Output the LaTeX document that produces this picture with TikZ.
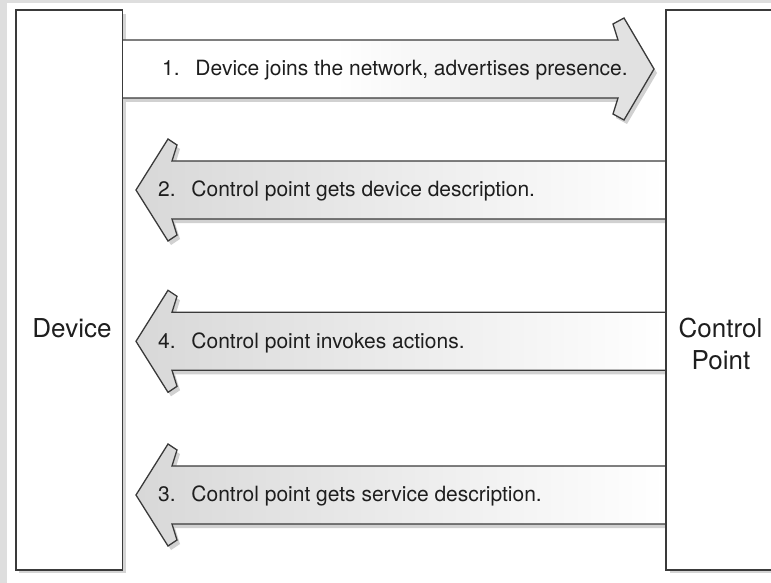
\documentclass[tikz,border=0pt]{standalone}
\usepackage{fontspec}
\setmainfont{TeX Gyre Heros}
\usetikzlibrary{calc}
\pgfdeclarehorizontalshading{shadeR}{100bp}{color(0bp)=(white); color(45bp)=(white); color(100bp)=(black!23)}
\pgfdeclarehorizontalshading{shadeL}{100bp}{color(0bp)=(black!23); color(75bp)=(white); color(100bp)=(white)}
\definecolor{ink}{HTML}{1E1E1E}
\definecolor{edge}{HTML}{3A3A3A}
\begin{document}
\begin{tikzpicture}[x=1pt,y=-1pt,
  box/.style={draw=edge, line width=1.3pt, fill=white, inner sep=0pt},
  boxshadow/.style={fill=black!17},
  arrowline/.style={draw=edge, line width=1.3pt, line join=miter},
  arrowshadow/.style={fill=black!18},
  lbl/.style={text=ink, inner sep=0pt, font=\fontsize{21}{25}\selectfont},
  boxlbl/.style={text=ink, inner sep=0pt, align=center, font=\fontsize{26}{31.5}\selectfont}]
\useasboundingbox (0,0) rectangle (771,583);
% faint background strips
\fill[black!13] (0,0) rectangle (771,3.5);
\fill[black!13] (0,0) rectangle (7,583);
% shadows
\fill[boxshadow] (19,14) rectangle (125.5,573);
\fill[boxshadow] (669.5,14) rectangle (800,573);
\begin{scope}[shift={(0,69)}]
  \fill[arrowshadow, shift={(3,4)}] (122,-29) -- (618,-29) -- (613,-45) -- (624,-51) -- (654,0) -- (624,51) -- (613,45) -- (618,29) -- (122,29) -- cycle;
\end{scope}
\foreach \cy in {190,341.3,495}{
  \fill[arrowshadow, shift={(3,\cy+4)}] (666,-29) -- (172,-29) -- (177,-45) -- (168,-51) -- (136,0) -- (168,51) -- (177,45) -- (172,29) -- (666,29) -- cycle;}
% boxes
\node[box, minimum width=106.3pt, minimum height=559pt] (dev) at (69,290) {};
\node[box, minimum width=134pt, minimum height=559pt] (cp) at (733,290) {};
\node[boxlbl, anchor=base] (devlbl) at (72,337.5) {Device};
\node[boxlbl, anchor=base] (cplbl1) at (720.5,337.5) {Control};
\node[boxlbl, anchor=base] (cplbl2) at (721,369) {Point};
% arrow 1 (right)
\begin{scope}[shift={(0,69)}]
  \path[arrowline, shading=shadeR] (dev.east |- 0,-29) coordinate (a1s) -- (618,-29) -- (613,-45) -- (624,-51) -- (654,0) coordinate (a1t) -- (624,51) -- (613,45) -- (618,29) -- (dev.east |- 0,29);
  \node[lbl, anchor=base west] (t1) at (162,6.5) {1.\hspace{0.75em}Device joins the network, advertises presence.};
\end{scope}
% left arrows
\foreach \cy/\nm/\txt in {190/2/{2.\hspace{0.75em}Control point gets device description.},
                          341.3/4/{4.\hspace{0.75em}Control point invokes actions.},
                          495/3/{3.\hspace{0.75em}Control point gets service description.}}{
\begin{scope}[shift={(0,\cy)}]
  \path[arrowline, shading=shadeL] (cp.west |- 0,-29) -- (172,-29) -- (177,-45) -- (168,-51) -- (136,0) coordinate (a\nm t) -- (168,51) -- (177,45) -- (172,29) -- (cp.west |- 0,29);
  \node[lbl, anchor=base west] (t\nm) at (158,6.8) {\txt};
\end{scope}}
% box outlines on top
\draw[draw=edge, line width=1.3pt] (dev.north west) rectangle (dev.south east);
\draw[draw=edge, line width=1.3pt] (cp.north west) rectangle (cp.south east);
\end{tikzpicture}
\end{document}
